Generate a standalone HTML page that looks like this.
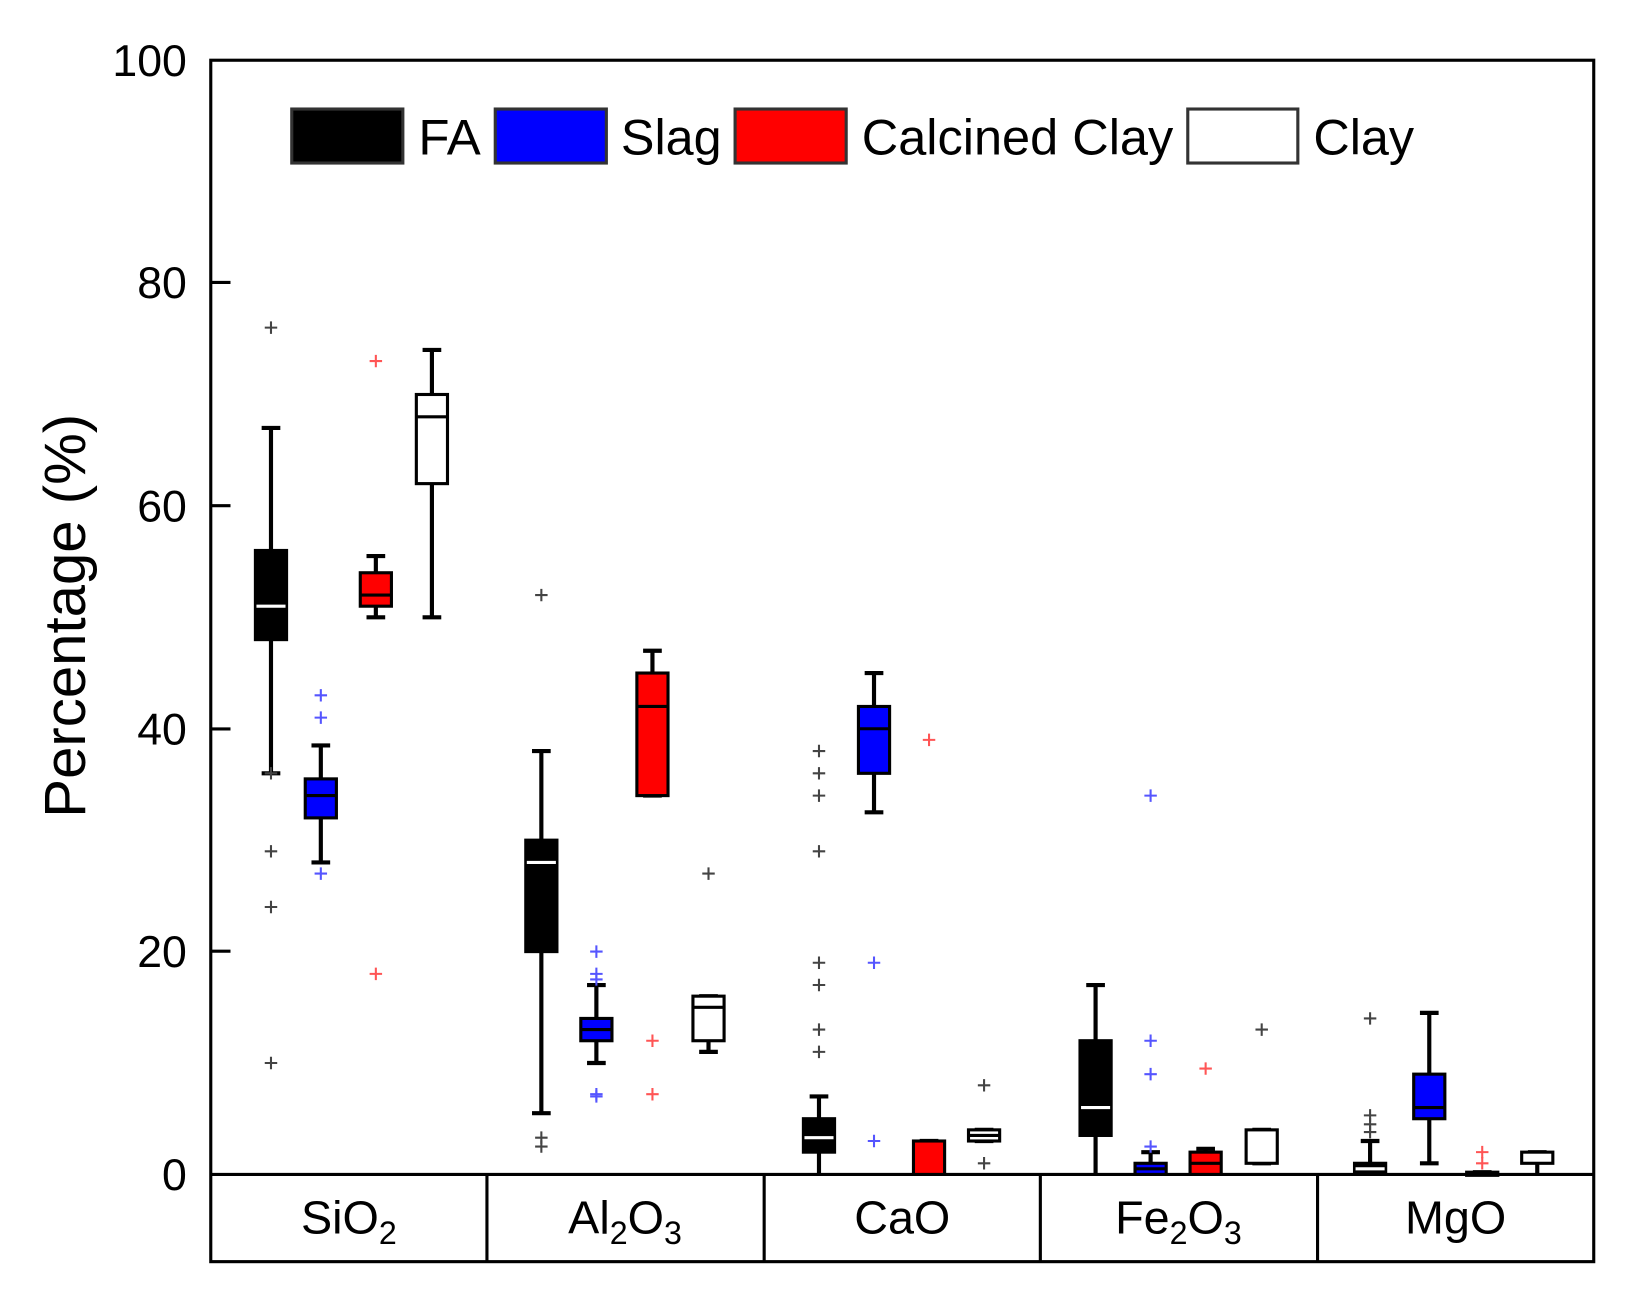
<!DOCTYPE html>
<html><head><meta charset="utf-8"><style>html,body{margin:0;padding:0;background:#fff}svg{display:block}</style></head>
<body>
<svg id="s" xmlns="http://www.w3.org/2000/svg" width="1628" height="1298" viewBox="0 0 1568 1250" preserveAspectRatio="none" font-family="Liberation Sans, sans-serif">
<rect x="0" y="0" width="1568" height="1250" fill="#fff"/>
<rect x="203" y="58" width="1332" height="1157" fill="none" stroke="#000" stroke-width="3"/>
<line x1="203" y1="1131" x2="1535" y2="1131" stroke="#000" stroke-width="3"/>
<g stroke="#000" stroke-width="3">
<line x1="469" y1="1131" x2="469" y2="1215"/><line x1="736" y1="1131" x2="736" y2="1215"/>
<line x1="1002" y1="1131" x2="1002" y2="1215"/><line x1="1269" y1="1131" x2="1269" y2="1215"/>
<line x1="203" y1="272" x2="222" y2="272"/><line x1="203" y1="487" x2="222" y2="487"/>
<line x1="203" y1="702" x2="222" y2="702"/><line x1="203" y1="916" x2="222" y2="916"/>
</g>
<g font-size="43" text-anchor="end" fill="#000">
<text x="180" y="73">100</text><text x="180" y="287">80</text><text x="180" y="502">60</text>
<text x="180" y="717">40</text><text x="180" y="931">20</text><text x="180" y="1146">0</text>
</g>
<text transform="translate(82,593) rotate(-90)" font-size="56" text-anchor="middle">Percentage (%)</text>
<g font-size="45" text-anchor="middle">
<text x="336" y="1188">SiO<tspan font-size="31" dy="10">2</tspan></text>
<text x="602" y="1188">Al<tspan font-size="31" dy="10">2</tspan><tspan dy="-10">O</tspan><tspan font-size="31" dy="10">3</tspan></text>
<text x="869" y="1188">CaO</text>
<text x="1135" y="1188">Fe<tspan font-size="31" dy="10">2</tspan><tspan dy="-10">O</tspan><tspan font-size="31" dy="10">3</tspan></text>
<text x="1402" y="1188">MgO</text>
</g>
<g stroke="#333" stroke-width="3">
<rect x="281" y="105" width="107" height="52" fill="#000"/>
<rect x="477" y="105" width="107" height="52" fill="#00f"/>
<rect x="708" y="105" width="107" height="52" fill="#f00"/>
<rect x="1144" y="105" width="106" height="52" fill="#fff"/>
</g>
<g font-size="48">
<text x="403" y="149" textLength="60" lengthAdjust="spacingAndGlyphs">FA</text>
<text x="598" y="149" textLength="97" lengthAdjust="spacingAndGlyphs">Slag</text>
<text x="830" y="149" textLength="300" lengthAdjust="spacingAndGlyphs">Calcined Clay</text>
<text x="1265" y="149" textLength="97" lengthAdjust="spacingAndGlyphs">Clay</text>
</g>
<g id="d"></g>
</svg>
<script>
var Y=function(v){return 1131-v*10.73;};
var cols=['#000','#00f','#f00','#fff'],med=['#fff','#000','#000','#000'],oc=['#444','#55f','#f55','#444'];
var OFF=[[58,106,159,213],[52,105,159,213],[53,106,159,212],[53,106,159,213],[51,108,159,212]];
var D=[
[[36,67,48,56,51,[76,29,24,10,36]],[28,38.5,32,35.5,34,[43,41,27]],[50,55.5,51,54,52,[73,18]],[50,74,62,70,68,[]]],
[[5.5,38,20,30,28,[52,3.3,2.5]],[10,17,12,14,13,[20,18,17.5,7,7.2]],[34,47,34,45,42,[12,7.2]],[11,16,12,16,15,[27]]],
[[0,7,2,5,3.3,[38,36,34,29,19,17,13,11]],[32.5,45,36,42,40,[19,3]],[0,3,0,3,null,[39]],[3,4,3,4,3.5,[8,1]]],
[[0,17,3.5,12,6,[]],[0,2,0,1,0.5,[34,12,9,2.5]],[0,2.3,0,2,1,[9.5]],[1,4,1,4,null,[13]]],
[[0,3,0,1,0.5,[14,5.3,4.5,3.8]],[1,14.5,5,9,6,[]],[0,0.2,0,0.2,null,[2,1]],[0,2,1,2,null,[]]]];
var h='';
for(var c=0;c<5;c++)for(var k=0;k<4;k++){
 var d=D[c][k],x=203+c*266.4+OFF[c][k];
 h+='<line x1="'+x+'" x2="'+x+'" y1="'+Y(d[1])+'" y2="'+Y(d[0])+'" stroke="#000" stroke-width="4"/>';
 h+='<line x1="'+(x-9)+'" x2="'+(x+9)+'" y1="'+Y(d[1])+'" y2="'+Y(d[1])+'" stroke="#000" stroke-width="4"/>';
 if(d[0]>0)h+='<line x1="'+(x-9)+'" x2="'+(x+9)+'" y1="'+Y(d[0])+'" y2="'+Y(d[0])+'" stroke="#000" stroke-width="4"/>';
 h+='<rect x="'+(x-15)+'" y="'+Y(d[3])+'" width="30" height="'+Math.max(3,Y(d[2])-Y(d[3]))+'" fill="'+cols[k]+'" stroke="#000" stroke-width="3"/>';
 if(d[4]!==null)h+='<line x1="'+(x-14)+'" x2="'+(x+14)+'" y1="'+Y(d[4])+'" y2="'+Y(d[4])+'" stroke="'+med[k]+'" stroke-width="3"/>';
 d[5].forEach(function(o){var y=Y(o);h+='<path d="M'+(x-6)+' '+y+'h12M'+x+' '+(y-6)+'v12" stroke="'+oc[k]+'" stroke-width="2"/>';});
}
document.getElementById('d').innerHTML=h;
</script>
</body></html>
